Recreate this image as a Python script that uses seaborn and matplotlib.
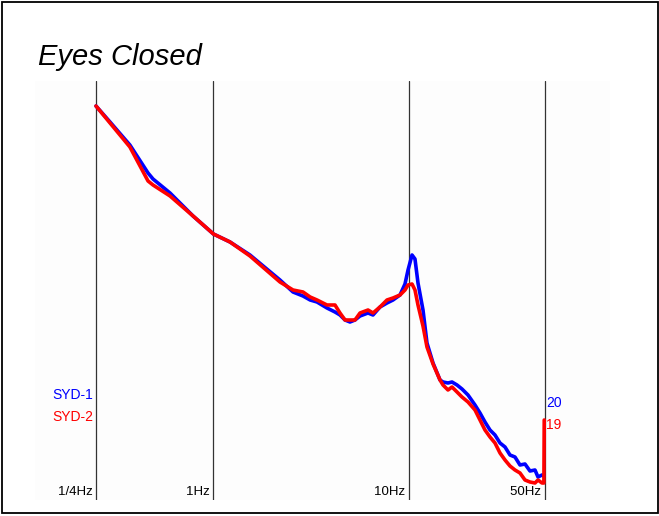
import numpy as np
import pandas as pd
import matplotlib
matplotlib.use("Agg")
import matplotlib.pyplot as plt
import matplotlib.transforms as mtransforms
import seaborn as sns

# frequency (Hz) and relative log power (arbitrary units)
freq = [0.25, 0.295, 0.373, 0.462, 0.490, 0.599, 0.786, 1.0, 1.216, 1.539,
        2.193, 2.557, 2.877, 3.13, 3.395, 3.819, 4.198, 4.453, 4.724, 5.01,
        5.315, 5.639, 6.198, 6.574, 7.14, 7.753, 8.323, 9.042, 9.59, 9.94,
        10.42, 10.79, 11.18, 11.86, 12.43, 13.35, 14.50, 15.02, 15.93, 16.70,
        17.72, 18.79, 20.17, 21.91, 23.24, 24.65, 26.15, 27.74, 29.43, 31.22,
        33.11, 35.12, 37.26, 39.53, 41.93, 44.48, 46.08, 48.31, 49.4]
syd1 = [394, 378, 355, 327, 321, 307, 284, 266, 258, 245,
        220, 208, 204, 200, 198, 192, 188, 185, 180, 178,
        180, 184, 187, 185, 193, 197, 200, 205, 216, 230,
        245, 241, 217, 190, 157, 137, 120, 118, 117, 118,
        115, 111, 105, 95, 87, 78, 70, 65, 57, 53,
        45, 43, 35, 36, 29, 30, 23, 25, 24]
syd2 = [394, 377, 353, 319, 315, 304, 284, 266, 258, 244,
        218, 210, 208, 203, 200, 195, 195, 187, 180, 180,
        180, 187, 190, 187, 193, 200, 202, 205, 210, 215,
        216, 210, 195, 174, 153, 136, 120, 115, 110, 113,
        108, 103, 98, 90, 80, 70, 63, 57, 47, 40,
        34, 30, 27, 20, 18, 17, 20, 17, 17]
# last red sample jumps up at the end of the trace
syd2_end_freq = 49.6
syd2_end_val = 80

series_names = ["SYD-1", "SYD-2"]
series_colors = ["#0000ff", "#ff0000"]
end_labels = ["20", "19"]

tick_freqs = [0.25, 1, 10, 50]
tick_labels = ["1/4Hz", "1Hz", "10Hz", "50Hz"]

df = pd.DataFrame({
    "freq": freq * 2 + [syd2_end_freq],
    "power": syd1 + syd2 + [syd2_end_val],
    "series": ["SYD-1"] * len(freq) + ["SYD-2"] * (len(freq) + 1),
})

sns.set_style("white")
plt.rcParams["font.family"] = ["Liberation Sans", "DejaVu Sans"]

fig = plt.figure(figsize=(6.59, 5.16), dpi=100)
ax = fig.add_axes([35 / 659, 1 - 500 / 516, 575 / 659, 419 / 516])
ax.set_facecolor("#fdfdfd")

for f in tick_freqs:
    ax.axvline(f, color="#333333", lw=0.9, zorder=1)

sns.lineplot(data=df, x="freq", y="power", hue="series", palette=series_colors,
             hue_order=series_names, sort=False, estimator=None, lw=2.6,
             legend=False, ax=ax, zorder=3)

ax.set_xscale("log")
ax.set_xlim(0.1217, 107.8)
ax.set_ylim(0, 419)
ax.set_xticks([])
ax.set_yticks([])
ax.set_xlabel("")
ax.set_ylabel("")
ax.minorticks_off()
for s in ax.spines.values():
    s.set_visible(False)

trans = mtransforms.blended_transform_factory(ax.transData, ax.transAxes)
for f, lab in zip(tick_freqs, tick_labels):
    ax.text(f, 0.004, lab + " ", transform=trans, ha="right", va="bottom",
            fontsize=9.5, color="black")

for i, (name, c) in enumerate(zip(series_names, series_colors)):
    fig.text(93 / 659, 1 - (395 + 22 * i) / 516, name, color=c, fontsize=10,
             ha="right", va="center")
    fig.text(546 / 659, 1 - (403 + 22 * i) / 516, end_labels[i], color=c,
             fontsize=10, ha="left", va="center")

fig.text(38 / 659, 1 - 57 / 516, "Eyes Closed", fontsize=21, style="italic",
         color="black", ha="left", va="center")

fig.patches.append(plt.Rectangle((2 / 659, 3 / 516), 656 / 659, 511 / 516,
                                 transform=fig.transFigure, fill=False,
                                 edgecolor="black", lw=1.3))

fig.savefig("out.png", dpi=100)
